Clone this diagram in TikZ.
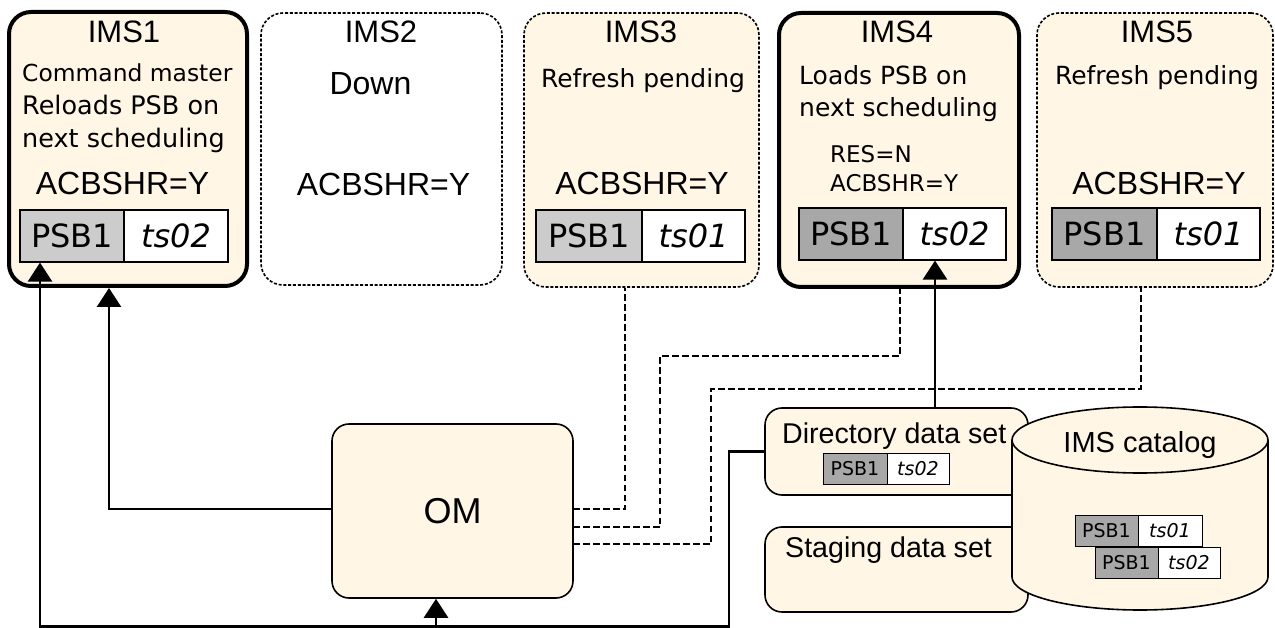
\documentclass[tikz,border=0pt]{standalone}
\usepackage{fontspec}
\setmainfont{Liberation Sans}
\newfontfamily\dv{DejaVu Sans}
\usetikzlibrary{arrows.meta}
\definecolor{cream}{RGB}{255,246,230}
\definecolor{lgray}{RGB}{204,204,204}
\definecolor{dgray}{RGB}{168,168,168}
\tikzset{
  box/.style={rectangle, rounded corners=22pt, fill=cream, draw=black, inner sep=0pt},
  thickbox/.style={box, line width=4pt},
  dotbox/.style={box, line width=1.6pt, dash pattern=on 3pt off 1.8pt},
  smallbox/.style={rectangle, rounded corners=17pt, fill=cream, draw=black, line width=1.6pt, inner sep=0pt},
  title/.style={anchor=base, font=\fontsize{31}{31}\selectfont, inner sep=0pt},
  big/.style={anchor=base, font=\fontsize{32}{32}\selectfont, inner sep=0pt},
  small/.style={anchor=base west, font=\dv\fontsize{25}{25}\selectfont, inner sep=0pt},
  tiny/.style={anchor=base west, font=\dv\fontsize{23}{23}\selectfont, inner sep=0pt},
  cell/.style={rectangle, draw=black, line width=1.2pt, inner sep=0pt, font=\dv\fontsize{32}{32}\selectfont},
  scell/.style={rectangle, draw=black, line width=1pt, inner sep=0pt, font=\dv\fontsize{19}{19}\selectfont},
  conn/.style={draw=black, line width=2.6pt},
  arr/.style={-{Triangle[length=19pt,width=24pt]}},
  dconn/.style={draw=black, line width=2.8pt, dash pattern=on 6.5pt off 3.5pt},
}
\begin{document}
\begin{tikzpicture}[x=1pt,y=-1pt]
\useasboundingbox (0,0) rectangle (1275,628);

% IMS boxes
\node[thickbox, minimum width=238pt, minimum height=274pt] (ims1) at (128,149) {};
\node[dotbox, fill=white, minimum width=241pt, minimum height=272pt] (ims2) at (381.5,149) {};
\node[dotbox, minimum width=235pt, minimum height=274pt] (ims3) at (641.5,150) {};
\node[thickbox, minimum width=240pt, minimum height=274pt] (ims4) at (899,150) {};
\node[dotbox, minimum width=236pt, minimum height=274pt] (ims5) at (1155,150) {};

% IMS1
\node[title] (t1) at (124,43) {IMS1};
\node[small, font=\dv\fontsize{23.4}{23.4}\selectfont] (t1a) at (22,82) {Command master};
\node[small, font=\dv\fontsize{25.5}{25.5}\selectfont] (t1b) at (22,115) {Reloads PSB on};
\node[small, font=\dv\fontsize{25.5}{25.5}\selectfont] (t1c) at (22,148) {next scheduling};
\node[big] (t1d) at (122.5,195) {ACBSHR=Y};
\node[cell, fill=lgray, minimum width=104pt, minimum height=52pt] (p1a) at (72,236) {PSB1};
\node[cell, fill=white, minimum width=104pt, minimum height=52pt] (p1b) at (176,236) {\itshape ts02};

% IMS2
\node[title] (t2) at (381,43) {IMS2};
\node[big] (t2a) at (370.5,95) {Down};
\node[big] (t2b) at (383.5,196) {ACBSHR=Y};

% IMS3
\node[title] (t3) at (641,43) {IMS3};
\node[small, anchor=base] (t3a) at (643,88) {Refresh pending};
\node[big] (t3b) at (642,195) {ACBSHR=Y};
\node[cell, fill=lgray, minimum width=106pt, minimum height=52pt] (p3a) at (589,236) {PSB1};
\node[cell, fill=white, minimum width=103pt, minimum height=52pt] (p3b) at (693.5,236) {\itshape ts01};

% IMS4
\node[title] (t4) at (897,43) {IMS4};
\node[small] (t4a) at (799,85) {Loads PSB on};
\node[small] (t4b) at (799,117) {next scheduling};
\node[tiny] (t4c) at (830,163) {RES=N};
\node[tiny] (t4d) at (830,192) {ACBSHR=Y};
\node[cell, fill=dgray, minimum width=104pt, minimum height=52pt] (p4a) at (851,234) {PSB1};
\node[cell, fill=white, minimum width=103pt, minimum height=52pt] (p4b) at (954.5,234) {\itshape ts02};

% IMS5
\node[title] (t5) at (1157,43) {IMS5};
\node[small, anchor=base] (t5a) at (1157,85) {Refresh pending};
\node[big] (t5b) at (1159,195) {ACBSHR=Y};
\node[cell, fill=dgray, minimum width=105pt, minimum height=52pt] (p5a) at (1104.5,234) {PSB1};
\node[cell, fill=white, minimum width=103pt, minimum height=52pt] (p5b) at (1208.5,234) {\itshape ts01};

% OM
\node[smallbox, minimum width=241pt, minimum height=174pt, font=\fontsize{36}{36}\selectfont] (om) at (452.5,511) {OM};

% data sets
\node[smallbox, minimum width=263pt, minimum height=87pt] (dir) at (896.5,451.5) {};
\node[anchor=base west, inner sep=0pt, font=\fontsize{28.6}{28.6}\selectfont] (dirt) at (782,443) {Directory data set};
\node[scell, fill=dgray, minimum width=64pt, minimum height=31pt] (pda) at (855,468.5) {PSB1};
\node[scell, fill=white, minimum width=62pt, minimum height=31pt] (pdb) at (918,468.5) {\itshape ts02};
\node[smallbox, minimum width=263pt, minimum height=85pt] (stg) at (896.5,569.5) {};
\node[anchor=base west, inner sep=0pt, font=\fontsize{28.6}{28.6}\selectfont] (stgt) at (785,557) {Staging data set};

% catalog cylinder
\draw[fill=cream, line width=1.6pt] (1012,440) -- (1012,577)
  arc[start angle=180, end angle=360, x radius=128pt, y radius=33pt] -- (1268,440)
  arc[start angle=0, end angle=180, x radius=128pt, y radius=33pt] -- cycle;
\draw[line width=1.6pt] (1012,440) arc[start angle=180, end angle=360, x radius=128pt, y radius=33pt];
\node[inner sep=0pt, anchor=base, font=\fontsize{29}{29}\selectfont] (cat) at (1140,452) {IMS catalog};
\node[scell, fill=dgray, minimum width=63pt, minimum height=31pt] (pc1a) at (1106.5,530.5) {PSB1};
\node[scell, fill=white, minimum width=64pt, minimum height=31pt] (pc1b) at (1170,530.5) {\itshape ts01};
\node[scell, fill=dgray, minimum width=63pt, minimum height=31pt] (pc2a) at (1126.5,562.5) {PSB1};
\node[scell, fill=white, minimum width=62pt, minimum height=31pt] (pc2b) at (1189,562.5) {\itshape ts02};

% connector coordinates
\coordinate (a1) at (109,0);
\coordinate (j2) at (729,626.5);
\coordinate (j3) at (40,626.5);
\coordinate (j4) at (436,626.5);
\coordinate (k4) at (935,0);
\coordinate (o1) at (573,509);
\coordinate (o2) at (573,527);
\coordinate (o3) at (573,544);
\coordinate (b2) at (660,356);
\coordinate (b3) at (711,389);
\coordinate (c1) at (625,0);
\coordinate (c2) at (900,0);
\coordinate (c3) at (1141,0);

% solid connectors
\draw[conn, arr] (om.west |- 0,509) -| (a1 |- ims1.south);
\draw[conn, arr] (dir.west) -| (j2) -- (j3) -- (j3 |- p1a.south);
\draw[conn, arr] (j4) -- (j4 |- om.south);
\draw[conn, arr] (k4 |- dir.north) -- (k4 |- p4b.south);

% dashed connectors
\draw[dconn] (o1) -| (c1 |- ims3.south);
\draw[dconn] (o2) -| (b2) -| (c2 |- ims4.south);
\draw[dconn] (o3) -| (b3) -| (c3 |- ims5.south);
\end{tikzpicture}
\end{document}
